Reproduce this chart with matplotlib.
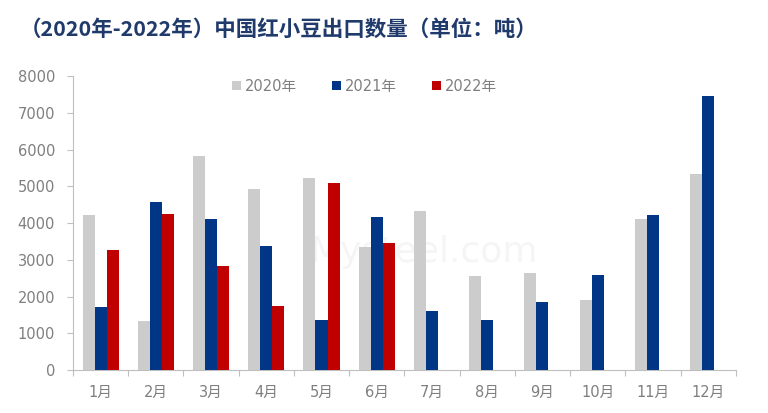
import matplotlib
matplotlib.use("Agg")
import matplotlib.pyplot as plt
import numpy as np

months = ["1月", "2月", "3月", "4月", "5月", "6月", "7月", "8月", "9月", "10月", "11月", "12月"]
v2020 = [4220, 1330, 5820, 4925, 5225, 3350, 4330, 2560, 2640, 1905, 4110, 5335]
v2021 = [1710, 4570, 4110, 3375, 1360, 4165, 1605, 1360, 1850, 2585, 4220, 7455]
v2022 = [3270, 4245, 2830, 1740, 5090, 3455, np.nan, np.nan, np.nan, np.nan, np.nan, np.nan]
series_names = ["2020年", "2021年", "2022年"]
colors = ["#CCCCCC", "#003685", "#C00000"]
title = "（2020年-2022年）中国红小豆出口数量（单位：吨）"

plt.rcParams['font.family'] = ['DejaVu Sans', 'Noto Sans CJK SC']

fig = plt.figure(figsize=(7.68, 4.13), dpi=100)
ax = fig.add_axes([0.095, 0.104, 0.863, 0.712])

x = np.arange(len(months))
w = 0.218
for i, (vals, c, name) in enumerate(zip([v2020, v2021, v2022], colors, series_names)):
    ax.bar(x + (i - 1) * w, vals, width=w, color=c, label=name, zorder=3)

ax.set_xlim(-0.5, len(months) - 0.5)
ax.set_ylim(0, 8000)
ax.set_yticks(np.arange(0, 8001, 1000))
ax.set_xticks(x)
ax.set_xticklabels(months)
ax.set_xticks(np.arange(-0.5, len(months), 1.0), minor=True)

gray = "#BFBFBF"
for s in ["top", "right"]:
    ax.spines[s].set_visible(False)
for s in ["left", "bottom"]:
    ax.spines[s].set_color(gray)
    ax.spines[s].set_linewidth(0.8)

ax.tick_params(axis='x', which='major', length=0, pad=11, labelsize=10.5, labelcolor="#7F7F7F")
ax.tick_params(axis='x', which='minor', length=4, color=gray, width=0.8)
ax.tick_params(axis='y', which='major', length=4, color=gray, width=0.8, pad=9,
               labelsize=10.5, labelcolor="#7F7F7F")

# faint watermark
ax.text(0.53, 0.40, "Mysteel.com", transform=ax.transAxes, fontsize=26,
        color="#F5F5F5", ha="center", va="center", zorder=1)

leg = ax.legend(loc="upper center", bbox_to_anchor=(0.44, 1.035), ncol=3, frameon=False,
                fontsize=10.5, handlelength=0.6, handleheight=0.6, handletextpad=0.3,
                columnspacing=2.4, labelcolor="#7F7F7F")

fig.text(0.026, 0.93, title, fontsize=15.5, fontweight="bold", color="#1F3A6B",
         ha="left", va="center", family=['Noto Sans CJK SC', 'DejaVu Sans'])

fig.savefig("out.png", dpi=100)
